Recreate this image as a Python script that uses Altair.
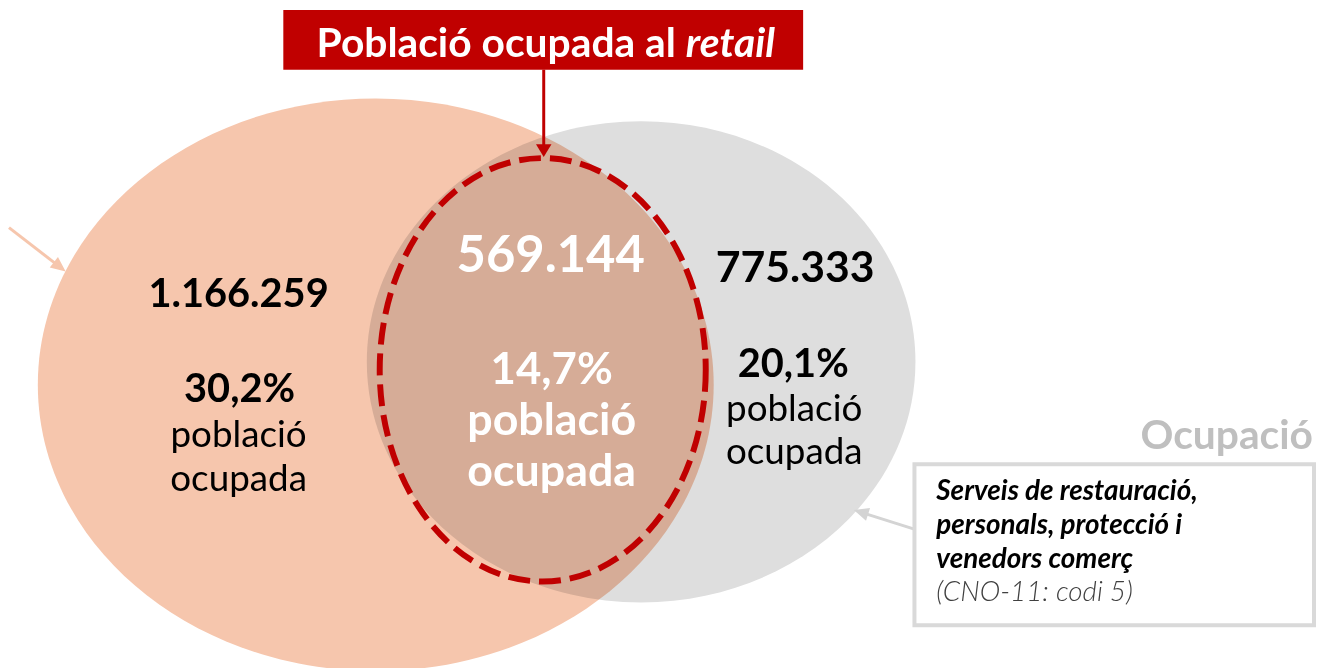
import math
import altair as alt
import pandas as pd

# ---------------- data ----------------
counts = [1166259, 569144, 775333]          # left only, overlap (retail), right only
shares = [30.2, 14.7, 20.1]                 # % of employed population
sub_lines = ["població", "ocupada"]
title_parts = ["Població ocupada al", "retail"]
side_label = "Ocupació"
box_lines = ["Serveis de restauració,", "personals, protecció i", "venedors comerç"]
box_note = "(CNO-11: codi 5)"


def fmt_int(v):
    return f"{v:,}".replace(",", ".")


def fmt_pct(v):
    return f"{v:.1f}".replace(".", ",") + "%"


# ---------------- layout (page pixel coordinates) ----------------
W, H = 1324, 668
M = 8
xs = alt.Scale(domain=[M, W], nice=False, zero=False)
ys = alt.Scale(domain=[M, H], nice=False, zero=False, reverse=True)
X = lambda f: alt.X(f, scale=xs, axis=None)
Y = lambda f: alt.Y(f, scale=ys, axis=None)

SALMON = "#F6C6AD"
GREY = "#DEDEDE"
RED = "#C00000"
FONT = "Lato"


def ellipse_path(rx, ry):
    R = max(rx, ry)
    a, b, k = rx / R, ry / R, 0.5523
    n = lambda v: f"{v:.4f}"
    return (f"M {n(a)} 0 C {n(a)} {n(b*k)} {n(a*k)} {n(b)} 0 {n(b)} "
            f"C {n(-a*k)} {n(b)} {n(-a)} {n(b*k)} {n(-a)} 0 "
            f"C {n(-a)} {n(-b*k)} {n(-a*k)} {n(-b)} 0 {n(-b)} "
            f"C {n(a*k)} {n(-b)} {n(a)} {n(-b*k)} {n(a)} 0 Z")


def ellipse(cx, cy, rx, ry, **mk):
    R = max(rx, ry)
    return alt.Chart(pd.DataFrame({"x": [cx], "y": [cy]})).mark_point(
        shape=ellipse_path(rx, ry), size=(2 * R) ** 2, opacity=1, **mk
    ).encode(x=X("x:Q"), y=Y("y:Q"))


def text(lines, xpos, ypos, size, weight="bold", color="black", align="center", style="normal"):
    df = pd.DataFrame({"t": lines, "x": xpos, "y": ypos})
    return alt.Chart(df).mark_text(
        font=FONT, fontSize=size, fontWeight=weight, fontStyle=style, color=color,
        align=align, baseline="alphabetic"
    ).encode(x=X("x:Q"), y=Y("y:Q"), text="t:N")


def arrow(x0, y0, x1, y1, color, width, head_len, head_ratio):
    ang = math.degrees(math.atan2(x1 - x0, -(y1 - y0))) % 360
    L = math.hypot(x1 - x0, y1 - y0)
    ux, uy = (x1 - x0) / L, (y1 - y0) / L
    line = alt.Chart(pd.DataFrame({"x": [x0], "y": [y0],
                                   "x2": [x1 - ux * head_len * 0.8], "y2": [y1 - uy * head_len * 0.8]})
                     ).mark_rule(color=color, strokeWidth=width).encode(
        x=X("x:Q"), y=Y("y:Q"), x2="x2:Q", y2="y2:Q")
    head = alt.Chart(pd.DataFrame({"x": [x1], "y": [y1]})).mark_point(
        shape=f"M 0 0 L {head_ratio} 1 L {-head_ratio} 1 Z", size=(2 * head_len) ** 2,
        filled=True, fill=color, strokeWidth=0, opacity=1, angle=ang
    ).encode(x=X("x:Q"), y=Y("y:Q"))
    return line + head


def rect(x0, y0, x1, y1, **mk):
    return alt.Chart(pd.DataFrame({"x": [x0], "y": [y0], "x2": [x1], "y2": [y1]})).mark_rect(**mk).encode(
        x=X("x:Q"), y=Y("y:Q"), x2="x2:Q", y2="y2:Q")


layers = []
# circles
layers.append(ellipse(378, 385, 340, 288, filled=True, fill=SALMON, strokeWidth=0))
layers.append(ellipse(645, 362, 276, 242, filled=True, fill=GREY, strokeWidth=0, blend="multiply"))
layers.append(ellipse(546, 370, 164, 213, filled=False, stroke=RED, strokeWidth=6, strokeDash=[22, 9]))

# title box + pointer
layers.append(rect(285, 8, 808, 68, color=RED))
layers.append(text([title_parts[0]], [680], [55], 41, color="white", align="right"))
layers.append(text([title_parts[1]], [690], [55], 41, color="white", align="left", style="italic"))
layers.append(arrow(547, 68, 547, 156, RED, 3, 13, 0.6))

# left set
layers.append(text([fmt_int(counts[0])], [240], [307], 40))
layers.append(text([fmt_pct(shares[0])], [241], [402], 40))
layers.append(text(sub_lines, [240, 240], [448, 492], 37, weight="normal"))

# overlap
layers.append(text([fmt_int(counts[1])], [554], [272], 51, color="white"))
layers.append(text([fmt_pct(shares[1])], [555], [384], 44, color="white"))
layers.append(text(sub_lines, [555, 555], [436, 487], 45, color="white"))

# right set
layers.append(text([fmt_int(counts[2])], [800], [282], 43))
layers.append(text([fmt_pct(shares[2])], [798], [377], 40))
layers.append(text(sub_lines, [799, 799], [422, 465], 37, weight="normal"))

# left pointer (its box lies in the page margin)
layers.append(arrow(9, 227, 66, 271, SALMON, 3, 15, 0.45))

# right label + box
layers.append(text([side_label], [1321], [450], 41, color="#BFBFBF", align="right"))
layers.append(arrow(919, 530, 859, 511, "#D4D4D4", 3, 15, 0.45))
layers.append(rect(920, 465, 1322, 627, fill="white", stroke="#D9D9D9", strokeWidth=4))
layers.append(text(box_lines, [942, 942, 942], [501, 535, 569], 28, color="black", align="left", style="italic"))
layers.append(text([box_note], [942], [603], 28, weight=300, color="#404040", align="left", style="italic"))

chart = alt.layer(*layers).properties(
    width=W - M, height=H - M, padding=0, autosize=alt.AutoSizeParams(type="none")
).configure_view(stroke=None)

chart.save("out.html", embed_options={"renderer": "svg", "actions": False})
